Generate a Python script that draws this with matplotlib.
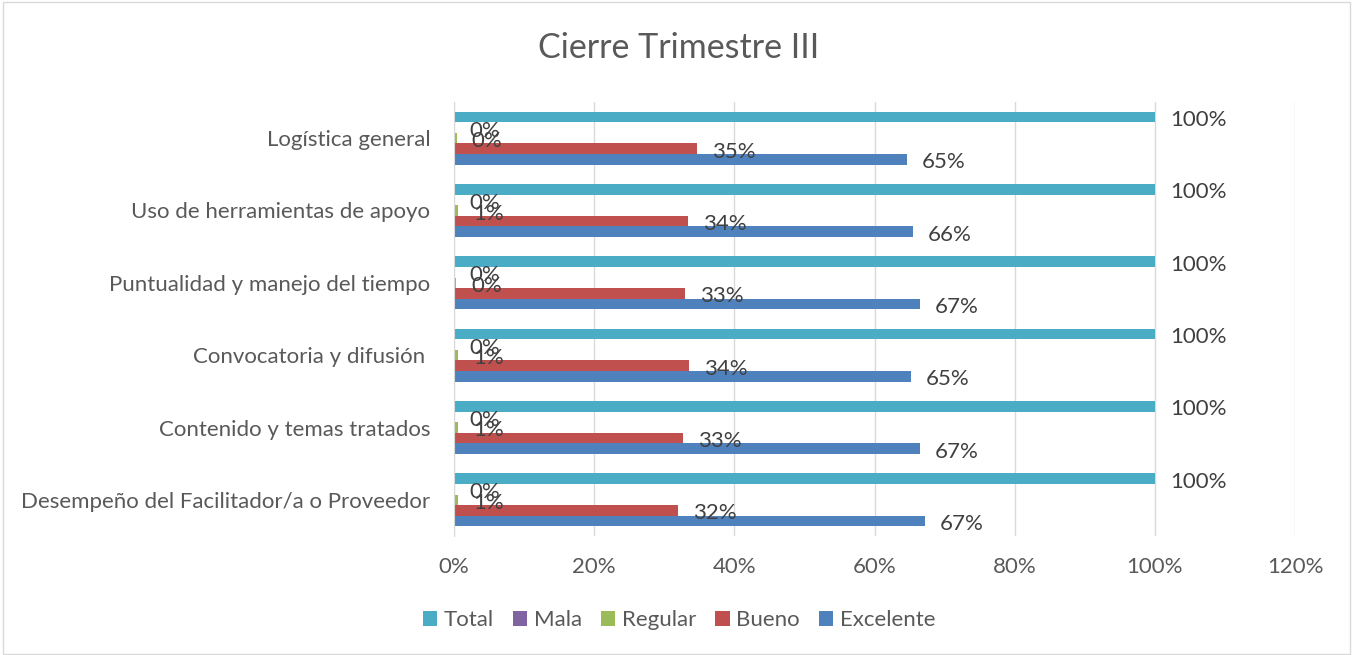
import numpy as np
import matplotlib.pyplot as plt
from matplotlib.patches import Rectangle

# data (shares)
categories = [
    "Desempeño del Facilitador/a o Proveedor",
    "Contenido y temas tratados",
    "Convocatoria y difusión ",
    "Puntualidad y manejo del tiempo",
    "Uso de herramientas de apoyo",
    "Logística general",
]
excelente = [0.672, 0.665, 0.652, 0.665, 0.655, 0.646]
bueno = [0.320, 0.327, 0.335, 0.330, 0.334, 0.347]
regular = [0.006, 0.006, 0.006, 0.003, 0.006, 0.004]
mala = [0.0, 0.0, 0.0, 0.0, 0.0, 0.0]
total = [1.0, 1.0, 1.0, 1.0, 1.0, 1.0]

excelente_lbl = ["67%", "67%", "65%", "67%", "66%", "65%"]
bueno_lbl = ["32%", "33%", "34%", "33%", "34%", "35%"]
regular_lbl = ["1%", "1%", "1%", "0%", "1%", "0%"]
mala_lbl = ["0%"] * 6
total_lbl = ["100%"] * 6

xticks = [0, 0.2, 0.4, 0.6, 0.8, 1.0, 1.2]
xtick_labels = ["0%", "20%", "40%", "60%", "80%", "100%", "120%"]

plt.rcParams['font.family'] = ['Lato', 'DejaVu Sans']
txt = '#595959'

W, H = 1353, 655
fig = plt.figure(figsize=(W / 100, H / 100), dpi=100)
fig.patches.append(Rectangle((0.002, 0.002), 0.996, 0.995, transform=fig.transFigure,
                             fill=False, edgecolor='#d9d9d9', linewidth=1))

ax = fig.add_axes([454 / W, 1 - 536 / H, (1295 - 454) / W, (536 - 102) / H])

y = np.arange(len(categories))
h = 0.147
series = [
    ("Excelente", excelente, excelente_lbl, '#4F81BD', -2),
    ("Bueno", bueno, bueno_lbl, '#C0504D', -1),
    ("Regular", regular, regular_lbl, '#9BBB59', 0),
    ("Mala", mala, mala_lbl, '#8064A2', 1),
    ("Total", total, total_lbl, '#4BACC6', 2),
]
handles = {}
for name, vals, lbls, color, k in series:
    pos = y + k * h
    bars = ax.barh(pos, vals, height=h, color=color, label=name, zorder=3)
    handles[name] = bars
    # data labels just past the bar end (overlap like the original)
    for v, p, l in zip(vals, pos, lbls):
        ax.annotate(l, (v, p), xytext=(15, -3), textcoords='offset pixels',
                    ha='left', va='center', fontsize=16, color='#404040', zorder=4)

ax.set_xlim(0, 1.2)
ax.set_ylim(-0.5, len(categories) - 0.5)
ax.set_xticks(xticks)
ax.set_xticklabels(xtick_labels)
ax.set_yticks(y)
ax.set_yticklabels(categories)
ax.tick_params(axis='both', length=0, labelsize=16, colors=txt)
ax.tick_params(axis='x', pad=15)
ax.tick_params(axis='y', pad=17)
ax.grid(axis='x', color='#d9d9d9', linewidth=1, zorder=0)
for s in ['top', 'right', 'bottom']:
    ax.spines[s].set_visible(False)
ax.spines['left'].set_color('#d9d9d9')
ax.spines['left'].set_zorder(5)

fig.text(679 / W, 1 - 48 / H, "Cierre Trimestre III", ha='center', va='center',
         fontsize=24.5, color=txt)

order = ["Total", "Mala", "Regular", "Bueno", "Excelente"]
fig.legend([handles[n] for n in order], order, loc='center', bbox_to_anchor=(679 / W, 1 - 620 / H),
           ncol=5, frameon=False, fontsize=16, labelcolor=txt, handlelength=0.65,
           handleheight=0.65, handletextpad=0.3, columnspacing=0.85)

fig.savefig('out.png', dpi=100)
